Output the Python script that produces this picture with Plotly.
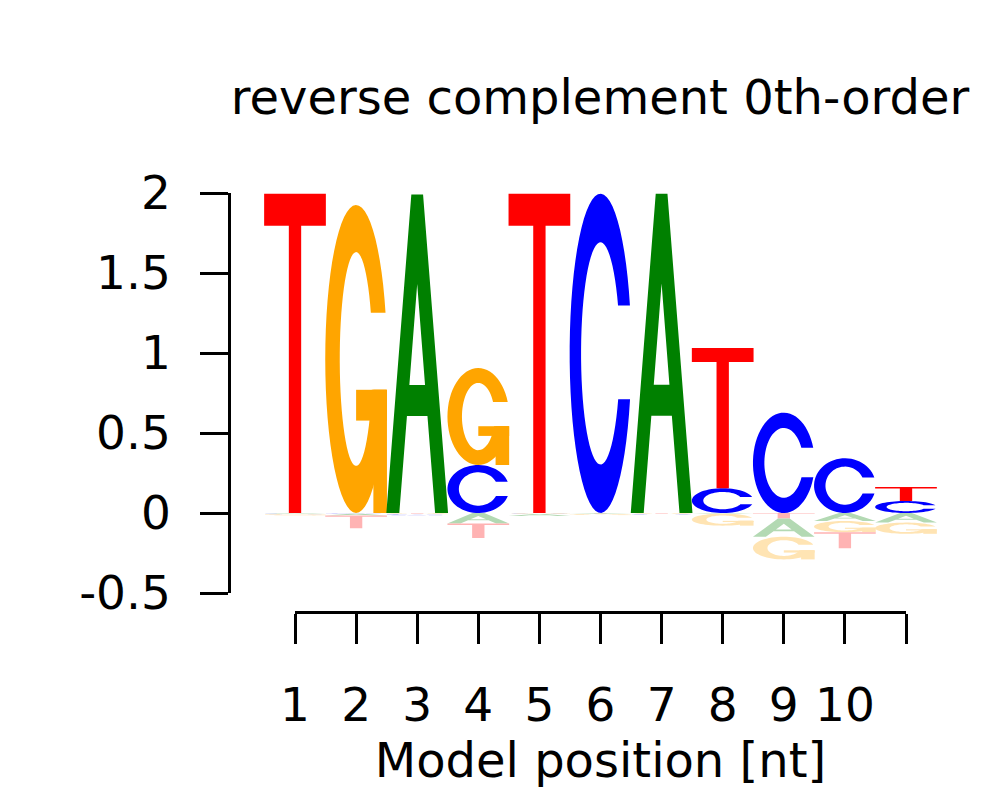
import numpy as np
import plotly.graph_objects as go

# ---------------- data ----------------
positions = list(range(1, 12))
tick_labels = ['1', '2', '3', '4', '5', '6', '7', '8', '9', '10', '']
y_ticks = [-0.5, 0, 0.5, 1, 1.5, 2]
y_tick_labels = ['-0.5', '0', '0.5', '1', '1.5', '2']

A_vals = [-0.004, -0.012, 1.99, -0.066, -0.012, -0.004, 1.995, -0.004, -0.113, -0.05, -0.06]
C_vals = [-0.004, -0.004, -0.008, 0.30, -0.003, 1.995, -0.004, 0.155, 0.627, 0.342, 0.075]
G_vals = [-0.006, 1.925, -0.004, 0.606, -0.003, -0.006, -0.003, -0.075, -0.142, -0.07, -0.07]
T_vals = [1.995, -0.08, -0.003, -0.09, 1.995, -0.003, -0.003, 0.876, -0.035, -0.10, 0.087]

title_text = 'reverse complement 0th-order'
x_title = 'Model position [nt]'

colors = {'A': '#008000', 'C': '#0000FF', 'G': '#FFA500', 'T': '#FF0000'}
pale = {'A': '#B3D9B3', 'C': '#B3B3FF', 'G': '#FFE4B3', 'T': '#FFB3B3'}

FONT = 'DejaVu Sans'

# ---------------- glyph templates (unit box) ----------------
def ell(cx, cy, rx, ry, a0, a1, n=60):
    t = np.linspace(a0, a1, n)
    return list(zip(cx + rx * np.cos(t), cy + ry * np.sin(t)))


def ring(inner_rx, inner_ry, v_up, v_low):
    o0 = np.arcsin((v_up - 0.5) / 0.5)
    o1 = 2 * np.pi + np.arcsin((v_low - 0.5) / 0.5)
    i0 = np.arcsin((v_up - 0.5) / inner_ry)
    i1 = 2 * np.pi + np.arcsin((v_low - 0.5) / inner_ry)
    outer = ell(0.5, 0.5, 0.5, 0.5, o0, o1)
    inner = ell(0.5, 0.5, inner_rx, inner_ry, i0, i1)[::-1]
    return [outer + inner]


def glyph(letter):
    if letter == 'T':
        return [[[(0, 1), (1, 1), (1, 0.9), (0.6, 0.9), (0.6, 0), (0.4, 0), (0.4, 0.9), (0, 0.9)]]]
    if letter == 'A':
        outer = [(0, 0), (0.405, 1), (0.595, 1), (1, 0), (0.79, 0), (0.666, 0.305),
                 (0.334, 0.305), (0.21, 0)]
        hole = [(0.373, 0.402), (0.5, 0.719), (0.627, 0.402)]
        return [[outer, hole]]
    if letter == 'C':
        return [ring(0.315, 0.348, 0.65, 0.356)]
    if letter == 'G':
        r = ring(0.265, 0.347, 0.65, 0.40)
        bar = [[(0.5, 0.30), (1, 0.30), (1, 0.40), (0.5, 0.40)]]
        stem = [[(0.78, 0), (1, 0), (1, 0.40), (0.78, 0.40)]]
        return [r, bar, stem]


def to_path(subpaths, x0, x1, y0, y1):
    parts = []
    for poly in subpaths:
        pts = ['%.4f,%.5f' % (x0 + u * (x1 - x0), y0 + v * (y1 - y0)) for u, v in poly]
        parts.append('M ' + ' L '.join(pts) + ' Z')
    return ' '.join(parts)


shapes = []
half_w = 0.505
vals = {'A': A_vals, 'C': C_vals, 'G': G_vals, 'T': T_vals}
for i, p in enumerate(positions):
    entries = [(l, vals[l][i]) for l in 'ACGT']
    pos_e = sorted([e for e in entries if e[1] > 0], key=lambda e: e[1])
    neg_e = sorted([e for e in entries if e[1] < 0], key=lambda e: -e[1])
    base = 0.0
    for l, h in pos_e:
        for piece in glyph(l):
            shapes.append(dict(type='path', xref='x', yref='y',
                               path=to_path(piece, p - half_w, p + half_w, base, base + h),
                               fillcolor=colors[l], line=dict(width=0), layer='above'))
        base += h
    base = 0.0
    for l, h in neg_e:
        for piece in glyph(l):
            shapes.append(dict(type='path', xref='x', yref='y',
                               path=to_path(piece, p - half_w, p + half_w, base + h, base),
                               fillcolor=pale[l], line=dict(width=0), layer='above'))
        base += h

# ---------------- figure ----------------
fig = go.Figure()
fig.add_trace(go.Scatter(x=[positions[0], positions[-1]], y=[0, 0], mode='markers',
                         marker=dict(opacity=0), hoverinfo='skip', showlegend=False))
fig.add_trace(go.Scatter(x=[positions[0], positions[-1]], y=[0, 0], mode='markers',
                         xaxis='x2', yaxis='y',
                         marker=dict(opacity=0), hoverinfo='skip', showlegend=False))

OFF = 8  # page body margin
L, R, T_m, B = 231 - OFF, 48, 193 - OFF, 800 - (612 - OFF)
pw = 1000 - L - R
ph = 800 - T_m - B
px_per = 61.1
x1_px = 295 - OFF
x11_px = 906 - OFF
x_lo = 1 - (x1_px - L) / px_per
x_hi = x_lo + pw / px_per
d_left = (x1_px - L) / pw
d_right = (x11_px - L) / pw
y_d0 = (612 - 593) / ph

fig.update_layout(
    width=1000, height=800,
    paper_bgcolor='white', plot_bgcolor='white',
    margin=dict(l=L, r=R, t=T_m, b=B, autoexpand=False),
    showlegend=False,
    shapes=shapes,
    title=dict(text=title_text, x=(600 - OFF) / 1000, xref='container', xanchor='center',
               y=1 - (97 - OFF) / 800, yref='container', yanchor='middle',
               font=dict(family=FONT, size=48, color='black')),
    xaxis=dict(visible=False, range=[x_lo, x_hi], domain=[0, 1], fixedrange=True,
               automargin=False),
    xaxis2=dict(domain=[d_left, d_right], range=[1, 11], anchor='free', position=0,
                automargin=False,
                showline=True, linecolor='black', linewidth=2.5,
                ticks='outside', ticklen=30, tickwidth=2.5, tickcolor='black',
                tickvals=positions, ticktext=tick_labels,
                tickfont=dict(family=FONT, size=47, color='black'),
                ticklabelstandoff=21,
                showgrid=False, zeroline=False,
                title=dict(text=x_title, font=dict(family=FONT, size=48, color='black'),
                           standoff=1)),
    yaxis=dict(domain=[y_d0, 1], range=[-0.5, 2], anchor='x', automargin=False,
               showline=True, linecolor='black', linewidth=2.5,
               ticks='outside', ticklen=28, tickwidth=2.5, tickcolor='black',
               tickvals=y_ticks, ticktext=y_tick_labels,
               tickfont=dict(family=FONT, size=47, color='black'),
               ticklabelstandoff=20,
               showgrid=False, zeroline=False),
)

fig.write_html('out.html')
